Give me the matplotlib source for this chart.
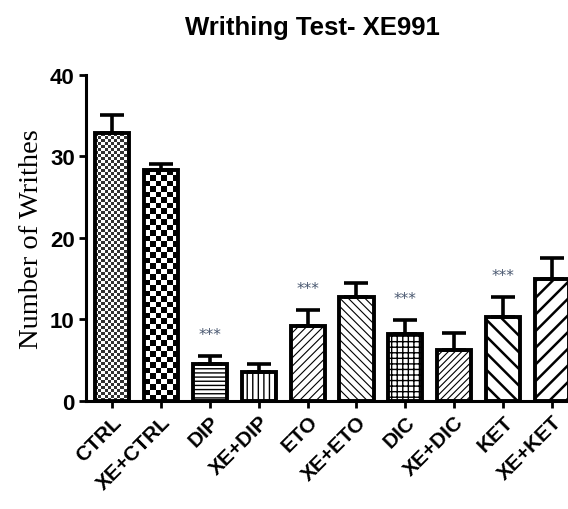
import numpy as np
import matplotlib
matplotlib.use("Agg")
import matplotlib.pyplot as plt

categories = ["CTRL", "XE+CTRL", "DIP", "XE+DIP", "ETO", "XE+ETO", "DIC", "XE+DIC", "KET", "XE+KET"]
means = [32.9, 28.3, 4.5, 3.5, 9.2, 12.7, 8.2, 6.2, 10.3, 15.0]
sem = [2.2, 0.8, 1.0, 1.0, 1.9, 1.8, 1.7, 2.1, 2.4, 2.5]
signif = ["", "", "***", "", "***", "", "***", "", "***", ""]
yticks = [0, 10, 20, 30, 40]
title = "Writhing Test- XE991"
ylabel = "Number of Writhes"

hatches = [None, None, "----", "|||", "////", "\\\\\\\\", "+++", "/////", "\\\\", "//"]
hatch_lw = [1, 1, 1.0, 1.0, 0.8, 0.8, 1.0, 0.8, 1.8, 1.8]

fig = plt.figure(figsize=(5.68, 5.10), dpi=100)
ax = fig.add_axes([0.1512, 0.2124, 0.8488, 0.6388])

x = np.arange(len(categories))
bars = ax.bar(x, means, width=0.70, color="none", edgecolor="black", linewidth=2.8, zorder=2)

for i, b in enumerate(bars):
    if hatches[i]:
        try:
            b.set_hatch_linewidth(hatch_lw[i])
        except AttributeError:
            pass
        b.set_hatch(hatches[i])

ax.set_xlim(-0.54, 9.33)
ax.set_ylim(0, 40)
fig.canvas.draw()


def checker(bar, cell_px, gray):
    x0, w, h = bar.get_x(), bar.get_width(), bar.get_height()
    p0 = ax.transData.transform((x0, 0))
    p1 = ax.transData.transform((x0 + w, h))
    nx = max(1, int(round((p1[0] - p0[0]) / cell_px)))
    ny = max(1, int(round((p1[1] - p0[1]) / cell_px)))
    img = (np.indices((ny, nx)).sum(axis=0) % 2).astype(float)
    img = np.where(img > 0, 1.0, gray)
    ax.imshow(img, cmap="gray", vmin=0, vmax=1, extent=(x0, x0 + w, 0, h),
              aspect="auto", interpolation="nearest", zorder=1.5)


checker(bars[0], 3.0, 0.2)
checker(bars[1], 5.5, 0.0)
ax.set_xlim(-0.54, 9.33)
ax.set_ylim(0, 40)
ax.set_aspect("auto")

ax.errorbar(x, means, yerr=[np.zeros(len(sem)), sem], fmt="none", ecolor="black",
            elinewidth=2.6, capsize=8.5, capthick=2.6, zorder=3)

for i, s in enumerate(signif):
    if s:
        ax.annotate(s, (x[i], means[i] + sem[i]), xytext=(0, 10), textcoords="offset points",
                    ha="center", va="bottom", fontsize=11, color="#4a5870",
                    family="DejaVu Sans")

for side in ["top", "right"]:
    ax.spines[side].set_visible(False)
for side in ["left", "bottom"]:
    ax.spines[side].set_linewidth(2.2)

ax.set_yticks(yticks)
ax.set_yticklabels([str(v) for v in yticks], fontsize=16, fontweight="bold", family="Liberation Sans")
ax.set_xticks(x)
ax.set_xticklabels(categories, rotation=45, ha="right", rotation_mode="anchor",
                   fontsize=15, fontweight="bold", family="Liberation Sans")
ax.tick_params(axis="both", direction="out", length=5, width=2, pad=3)

ax.set_ylabel(ylabel, fontsize=20.5, family="Liberation Serif", labelpad=4)
fig.text(0.55, 0.945, title, ha="center", va="center", fontsize=18.5,
         fontweight="bold", family="Liberation Sans")

fig.savefig("out.png", dpi=100)
